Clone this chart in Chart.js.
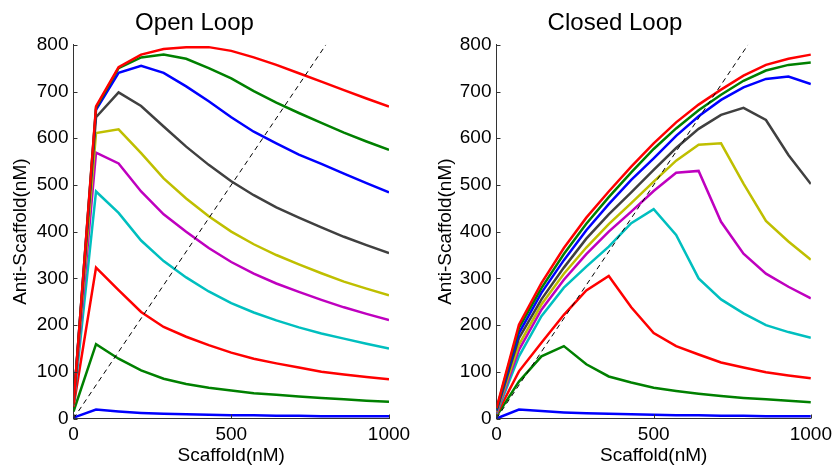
<!DOCTYPE html>
<html>
<head>
<meta charset="utf-8">
<script src="https://cdn.jsdelivr.net/npm/chart.js@4.4.1/dist/chart.umd.min.js"></script>
<style>
  html, body { margin: 0; padding: 0; background: #fff; }
  #wrap { position: relative; width: 837px; height: 467px; }
  .box { position: absolute; top: 0; height: 467px; }
</style>
</head>
<body>
<div id="wrap">
  <div class="box" style="left:0;width:418px"><canvas id="openChart" width="418" height="467"></canvas></div>
  <div class="box" style="left:418px;width:419px"><canvas id="closedChart" width="419" height="467"></canvas></div>
</div>
<script>
// Scaffold concentrations (nM), shared by every curve
const scaffold = [0, 71.4, 142.9, 214.3, 285.7, 357.1, 428.6, 500, 571.4, 642.9, 714.3, 785.7, 857.1, 928.6, 1000];

// Open loop curves, lowest to highest
const open1  = [2, 19, 15, 12, 10, 9, 8, 7, 7, 6, 6, 5, 5, 5, 5];
const open2  = [15, 159, 128, 103, 85, 74, 66, 60, 54, 51, 47, 44, 41, 38, 36];
const open3  = [25, 323, 275, 228, 196, 175, 157, 141, 128, 118, 109, 100, 94, 89, 84];
const open4  = [28, 486, 440, 381, 337, 302, 272, 247, 227, 210, 195, 182, 171, 160, 150];
const open5  = [30, 569, 546, 486, 437, 400, 365, 335, 310, 289, 271, 254, 238, 224, 211];
const open6  = [30, 611, 619, 568, 514, 471, 433, 400, 373, 350, 330, 311, 293, 278, 264];
const open7  = [30, 645, 698, 669, 625, 582, 543, 508, 478, 452, 430, 409, 389, 371, 354];
const open8  = [30, 661, 740, 755, 740, 711, 679, 645, 614, 589, 565, 545, 524, 504, 484];
const open9  = [30, 665, 750, 773, 779, 770, 750, 728, 701, 676, 654, 633, 612, 593, 575];
const open10 = [30, 668, 752, 779, 791, 795, 795, 787, 773, 757, 739, 721, 703, 685, 668];

// Closed loop curves, lowest to highest
const closed1  = [0, 19, 16, 13, 11, 10, 9, 8, 7, 7, 6, 6, 5, 5, 5];
const closed2  = [5, 79, 133, 155, 116, 90, 77, 66, 59, 53, 48, 44, 41, 38, 35];
const closed3  = [8, 101, 162, 222, 274, 305, 238, 183, 155, 137, 120, 109, 99, 92, 86];
const closed4  = [10, 133, 219, 280, 325, 368, 418, 448, 393, 300, 255, 225, 200, 185, 173];
const closed5  = [12, 147, 233, 297, 352, 400, 443, 487, 526, 530, 421, 353, 310, 282, 257];
const closed6  = [14, 158, 244, 310, 366, 416, 461, 507, 552, 586, 589, 503, 423, 379, 340];
const closed7  = [16, 172, 255, 323, 385, 437, 484, 532, 579, 620, 650, 665, 639, 564, 502];
const closed8  = [18, 183, 269, 339, 403, 459, 511, 557, 605, 647, 682, 709, 727, 732, 716];
const closed9  = [20, 194, 279, 352, 417, 474, 527, 577, 621, 660, 693, 723, 745, 757, 762];
const closed10 = [22, 201, 290, 365, 430, 486, 539, 589, 634, 672, 704, 734, 757, 770, 779];

// y = x reference line
const diagX = [0, 800];
const diagY = [0, 800];

const xTicks = [0, 500, 1000];
const yTicks = [0, 100, 200, 300, 400, 500, 600, 700, 800];

// matlab default line colours, one per curve level
const colors = ["#0000ff", "#008000", "#ff0000", "#00bfbf", "#bf00bf", "#bfbf00", "#404040", "#0000ff", "#008000", "#ff0000"];

Chart.defaults.font.family = "'Liberation Sans', Arial, Helvetica, sans-serif";
Chart.defaults.color = "#000";

const toPoints = (xs, ys) => xs.map((x, i) => ({ x: x, y: ys[i] }));

// matlab style ticks pointing into the plot
const innerTicks = {
  id: "innerTicks",
  afterDatasetsDraw(chart) {
    const { ctx, chartArea, scales } = chart;
    ctx.save();
    ctx.strokeStyle = "#333";
    ctx.lineWidth = 1;
    ctx.beginPath();
    xTicks.forEach(v => {
      const px = Math.round(scales.x.getPixelForValue(v)) + 0.5;
      ctx.moveTo(px, chartArea.bottom);
      ctx.lineTo(px, chartArea.bottom - 4);
    });
    yTicks.forEach(v => {
      const py = Math.round(scales.y.getPixelForValue(v)) + 0.5;
      ctx.moveTo(chartArea.left, py);
      ctx.lineTo(chartArea.left + 4, py);
    });
    ctx.stroke();
    ctx.restore();
  }
};

const makeChart = (id, title, series, axisW, padRight, yTitlePad) => {
  const datasets = [{
    data: toPoints(diagX, diagY),
    borderColor: "#000",
    borderWidth: 1,
    borderDash: [5, 4],
  }];
  // highest curve first so it is drawn on top
  for (let i = series.length - 1; i >= 0; i--) {
    datasets.push({
      data: toPoints(scaffold, series[i]),
      borderColor: colors[i],
      borderWidth: 2.5,
    });
  }
  return new Chart(document.getElementById(id), {
    type: "line",
    data: { datasets: datasets },
    options: {
      responsive: false,
      animation: false,
      layout: { padding: { left: 0, right: padRight, top: 0, bottom: 0 } },
      elements: { point: { radius: 0 }, line: { tension: 0 } },
      plugins: {
        legend: { display: false },
        tooltip: { enabled: false },
        title: {
          display: true,
          text: title,
          font: { size: 24, weight: "normal" },
          padding: { top: 9, bottom: 7 },
        },
      },
      scales: {
        x: {
          type: "linear",
          min: 0,
          max: 1000,
          grid: { display: false, drawTicks: false },
          border: { display: true, color: "#333", width: 1 },
          ticks: { stepSize: 500, font: { size: 19 }, padding: 5, maxRotation: 0, callback: v => String(v) },
          title: { display: true, text: "Scaffold(nM)", font: { size: 19 }, padding: { top: 0, bottom: 0 } },
          afterFit: s => { s.height = 48.5; },
        },
        y: {
          min: 0,
          max: 800,
          grid: { display: false, drawTicks: false },
          border: { display: true, color: "#333", width: 1 },
          ticks: { stepSize: 100, font: { size: 19 }, padding: 5, callback: v => String(v) },
          title: { display: true, text: "Anti-Scaffold(nM)", font: { size: 19 }, padding: { top: yTitlePad, bottom: 0 } },
          afterFit: s => { s.width = axisW; },
        },
      },
    },
    plugins: [innerTicks],
  });
};

makeChart("openChart", "Open Loop",
  [open1, open2, open3, open4, open5, open6, open7, open8, open9, open10], 73.5, 29, 9.6);
makeChart("closedChart", "Closed Loop",
  [closed1, closed2, closed3, closed4, closed5, closed6, closed7, closed8, closed9, closed10], 78.5, 25, 16.6);
</script>
</body>
</html>
